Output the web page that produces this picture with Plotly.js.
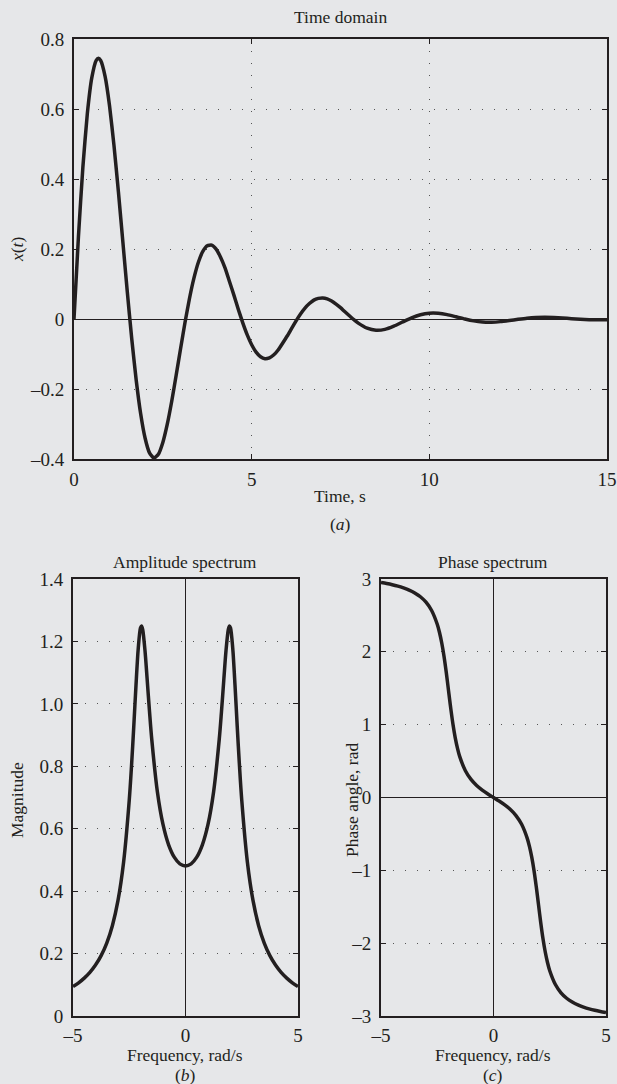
<!DOCTYPE html>
<html>
<head>
<meta charset="utf-8">
<script src="https://cdn.plot.ly/plotly-3.0.1.min.js"></script>
<style>html,body{margin:0;padding:0;background:#e6e7e9;}#chart{width:617px;height:1084px;}</style>
</head>
<body>
<div id="chart"></div>
<script>
// ---- Data ----
// (a) Time domain
var timeS = [0,0.125,0.25,0.375,0.5,0.625,0.6875,0.75,0.875,1,1.125,1.25,1.375,1.5,1.625,1.75,1.875,2,2.125,2.25,2.375,2.5,2.625,2.75,2.875,3,3.125,3.25,3.375,3.5,3.625,3.75,3.875,4,4.125,4.25,4.375,4.5,4.625,4.75,4.875,5,5.125,5.25,5.375,5.5,5.625,5.75,5.875,6,6.125,6.25,6.375,6.5,6.625,6.75,6.875,7,7.125,7.25,7.375,7.5,7.625,7.75,7.875,8,8.25,8.5,8.75,9,9.25,9.5,9.75,10,10.25,10.5,10.75,11,11.25,11.5,11.75,12,12.25,12.5,12.75,13,13.25,13.5,13.75,14,14.25,14.5,14.75,15];
var xValues = [0,0.2353,0.4338,0.5867,0.6889,0.7391,0.7450,0.7390,0.6934,0.6095,0.4961,0.3630,0.2202,0.0774,-0.0565,-0.1742,-0.2700,-0.3400,-0.3825,-0.3974,-0.3864,-0.3528,-0.3005,-0.2349,-0.1609,-0.0842,-0.0095,0.0586,0.1166,0.1620,0.1931,0.2093,0.2111,0.1997,0.1765,0.1459,0.1073,0.0681,0.0274,-0.0112,-0.0455,-0.0736,-0.0946,-0.1078,-0.1134,-0.1108,-0.1021,-0.0878,-0.0684,-0.0487,-0.0268,-0.0054,0.0143,0.0312,0.0442,0.0540,0.0588,0.0602,0.0576,0.0514,0.0426,0.0324,0.0205,0.0093,-0.0019,-0.0117,-0.0263,-0.0321,-0.0296,-0.0205,-0.0084,0.0034,0.0122,0.0167,0.0165,0.0126,0.0063,-0.0001,-0.0054,-0.0085,-0.0091,-0.0075,-0.0044,-0.0009,0.0022,0.0042,0.0049,0.0043,0.0029,0.0010,-0.0008,-0.0020,-0.0025,-0.0024];

// (b),(c) frequency grid (rad/s)
var freq = [-5,-4.75,-4.5,-4.25,-4,-3.75,-3.5,-3.25,-3,-2.75,-2.5,-2.4,-2.3,-2.2,-2.1,-2,-1.95,-1.9,-1.8,-1.7,-1.6,-1.5,-1.25,-1,-0.75,-0.5,-0.25,0,0.25,0.5,0.75,1,1.25,1.5,1.6,1.7,1.8,1.9,1.95,2,2.1,2.2,2.3,2.4,2.5,2.75,3,3.25,3.5,3.75,4,4.25,4.5,4.75,5];
var magnitude = [0.0942,0.1064,0.1213,0.1397,0.1631,0.1933,0.2336,0.2894,0.3702,0.4936,0.6914,0.8002,0.9262,1.0600,1.1775,1.2438,1.2497,1.2373,1.1704,1.0748,0.9761,0.8866,0.7186,0.6136,0.5484,0.5089,0.4875,0.4808,0.4875,0.5089,0.5484,0.6136,0.7186,0.8866,0.9761,1.0748,1.1704,1.2373,1.2497,1.2438,1.1775,1.0600,0.9262,0.8002,0.6914,0.4936,0.3702,0.2894,0.2336,0.1933,0.1631,0.1397,0.1213,0.1064,0.0942];
var phase = [2.9520,2.9380,2.9218,2.9017,2.8771,2.8476,2.8084,2.7561,2.6813,2.5676,2.3781,2.2655,2.1216,1.9396,1.7185,1.4711,1.3455,1.2236,1.0023,0.8196,0.6747,0.5609,0.3675,0.2478,0.1652,0.1019,0.0488,0,-0.0488,-0.1019,-0.1652,-0.2478,-0.3675,-0.5609,-0.6747,-0.8196,-1.0023,-1.2236,-1.3455,-1.4711,-1.7185,-1.9396,-2.1216,-2.2655,-2.3781,-2.5676,-2.6813,-2.7561,-2.8084,-2.8476,-2.8771,-2.9017,-2.9218,-2.9380,-2.9520];

// tick labels
var timeTicks = [0,5,10,15];
var timeTickText = ['0','5','10','15'];
var xTicks = [-0.4,-0.2,0,0.2,0.4,0.6,0.8];
var xTickText = ['\u20130.4','\u20130.2','0','0.2','0.4','0.6','0.8'];
var freqTicks = [-5,0,5];
var freqTickText = ['\u20135','0','5'];
var magTicks = [0,0.2,0.4,0.6,0.8,1.0,1.2,1.4];
var magTickText = ['0','0.2','0.4','0.6','0.8','1.0','1.2','1.4'];
var phaseTicks = [-3,-2,-1,0,1,2,3];
var phaseTickText = ['\u20133','\u20132','\u20131','0','1','2','3'];

// ---- Layout ----
var W = 617, H = 1084;
function px(x){return x/W;}
function py(y){return 1 - y/H;}
var FONT = 'Liberation Serif, Times New Roman, serif';
var INK = '#231f20';
var BG = '#e6e7e9';

function axisBase(extra){
  var a = {
    showline:true, mirror:'ticks', linecolor:INK, linewidth:2,
    ticks:'inside', ticklen:5, tickwidth:1, tickcolor:INK,
    showgrid:true, gridcolor:'#555', gridwidth:1, griddash:'1px,11px',
    zeroline:false, zerolinecolor:INK, zerolinewidth:1,
    tickfont:{family:FONT, size:19, color:INK},
    ticklabelstandoff:4,
    tickmode:'array', fixedrange:true
  };
  for (var k in extra) a[k] = extra[k];
  return a;
}

var lineTime = {color:INK, width:3.5, shape:'spline', smoothing:0.5};
var lineSpec = {color:INK, width:3.5, shape:'spline', smoothing:0.8};

var traces = [
  {x:timeS, y:xValues, type:'scatter', mode:'lines', line:lineTime, xaxis:'x', yaxis:'y', hoverinfo:'skip'},
  {x:freq, y:magnitude, type:'scatter', mode:'lines', line:lineSpec, xaxis:'x2', yaxis:'y2', hoverinfo:'skip'},
  {x:freq, y:phase, type:'scatter', mode:'lines', line:lineSpec, xaxis:'x3', yaxis:'y3', hoverinfo:'skip'}
];

function ann(text, x, y, opts){
  var a = {text:text, x:px(x), y:py(y), xref:'paper', yref:'paper', showarrow:false,
           xanchor:'center', yanchor:'middle', font:{family:FONT, size:17.5, color:INK}};
  if (opts) for (var k in opts) a[k] = opts[k];
  return a;
}

var layout = {
  width:W, height:H,
  paper_bgcolor:BG, plot_bgcolor:BG,
  margin:{l:0,r:0,t:0,b:0},
  showlegend:false,
  xaxis: axisBase({domain:[px(74), px(607)], range:[0,15], tickvals:timeTicks, ticktext:timeTickText, anchor:'y', ticklabelstandoff:2}),
  yaxis: axisBase({domain:[py(459), py(39)], range:[-0.4,0.8], tickvals:xTicks, ticktext:xTickText, anchor:'x', zeroline:true}),
  xaxis2: axisBase({domain:[px(73), px(298)], range:[-5,5], tickvals:freqTicks, ticktext:freqTickText, anchor:'y2', zeroline:true, ticklabelstandoff:1}),
  yaxis2: axisBase({domain:[py(1016), py(579)], range:[0,1.4], tickvals:magTicks, ticktext:magTickText, anchor:'x2'}),
  xaxis3: axisBase({domain:[px(381), px(606)], range:[-5,5], tickvals:freqTicks, ticktext:freqTickText, anchor:'y3', zeroline:true, ticklabelstandoff:1}),
  yaxis3: axisBase({domain:[py(1016), py(579)], range:[-3,3], tickvals:phaseTicks, ticktext:phaseTickText, anchor:'x3', zeroline:true}),
  annotations:[
    ann('Time domain', 340, 17),
    ann('Time, s', 340, 496),
    ann('(<i>a</i>)', 340, 524),
    ann('<i>x</i>(<i>t</i>)', 17, 250, {textangle:-90}),
    ann('Amplitude spectrum', 185, 562),
    ann('Phase spectrum', 493, 562),
    ann('Magnitude', 17, 800, {textangle:-90}),
    ann('Phase angle, rad', 352, 800, {textangle:-90}),
    ann('Frequency, rad/s', 185, 1055),
    ann('Frequency, rad/s', 493, 1055),
    ann('(<i>b</i>)', 185, 1075),
    ann('(<i>c</i>)', 493, 1075)
  ]
};

Plotly.newPlot('chart', traces, layout, {displayModeBar:false, staticPlot:true});
</script>
</body>
</html>
